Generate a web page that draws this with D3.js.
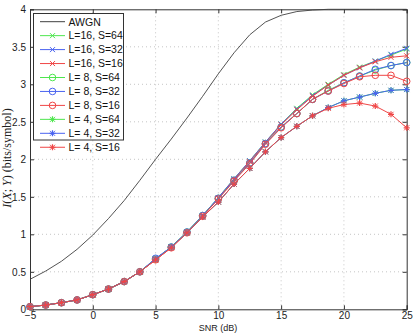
<!DOCTYPE html>
<html>
<head>
<meta charset="utf-8">
<script src="https://cdn.jsdelivr.net/npm/d3@7"></script>
<style>
  body { margin: 0; background: #fff; }
  svg text { font-family: "Liberation Sans", Arial, sans-serif; }
</style>
</head>
<body>
<div id="chart"></div>
<script>
// SNR grid (dB)
const snr = [-5, -3.75, -2.5, -1.25, 0, 1.25, 2.5, 3.75, 5, 6.25, 7.5, 8.75, 10,
  11.25, 12.5, 13.75, 15, 16.25, 17.5, 18.75, 20, 21.25, 22.5, 23.75, 25]

const awgn = [0.40, 0.51, 0.64, 0.80, 0.99, 1.21, 1.45, 1.72, 2.00, 2.27, 2.55, 2.84, 3.14,
  3.42, 3.66, 3.83, 3.92, 3.97, 3.99, 4.0, 4.0, 4.0, 4.0, 4.0, 4.0]

const l16s64 = [0.035, 0.057, 0.088, 0.125, 0.195, 0.27, 0.37, 0.50, 0.67, 0.83, 1.03, 1.25, 1.49,
  1.74, 1.98, 2.23, 2.47, 2.68, 2.86, 3.00, 3.13, 3.23, 3.31, 3.39, 3.47]
const l16s32 = [0.035, 0.057, 0.088, 0.125, 0.195, 0.27, 0.37, 0.50, 0.67, 0.83, 1.03, 1.25, 1.49,
  1.74, 1.98, 2.23, 2.47, 2.67, 2.85, 2.99, 3.12, 3.22, 3.31, 3.40, 3.48]
const l16s16 = [0.035, 0.057, 0.088, 0.125, 0.195, 0.27, 0.37, 0.50, 0.66, 0.83, 1.02, 1.24, 1.48,
  1.73, 1.97, 2.22, 2.46, 2.66, 2.84, 2.99, 3.12, 3.22, 3.30, 3.36, 3.38]
const l8s64 = [0.035, 0.057, 0.088, 0.125, 0.195, 0.27, 0.37, 0.50, 0.67, 0.83, 1.03, 1.25, 1.48,
  1.72, 1.95, 2.21, 2.43, 2.61, 2.80, 2.92, 3.02, 3.11, 3.19, 3.25, 3.29]
const l8s32 = [0.035, 0.057, 0.088, 0.125, 0.195, 0.27, 0.37, 0.50, 0.68, 0.83, 1.03, 1.25, 1.48,
  1.72, 1.95, 2.21, 2.43, 2.61, 2.80, 2.91, 3.02, 3.11, 3.20, 3.25, 3.29]
const l8s16 = [0.035, 0.057, 0.088, 0.125, 0.195, 0.27, 0.37, 0.50, 0.66, 0.82, 1.02, 1.24, 1.47,
  1.71, 1.94, 2.20, 2.42, 2.61, 2.80, 2.91, 3.01, 3.10, 3.12, 3.12, 3.04]
const l4s64 = [0.035, 0.057, 0.088, 0.125, 0.195, 0.27, 0.37, 0.50, 0.67, 0.83, 1.02, 1.23, 1.43,
  1.67, 1.88, 2.10, 2.29, 2.44, 2.58, 2.69, 2.78, 2.83, 2.88, 2.92, 2.93]
const l4s32 = [0.035, 0.057, 0.088, 0.125, 0.195, 0.27, 0.37, 0.50, 0.67, 0.83, 1.02, 1.23, 1.43,
  1.67, 1.88, 2.10, 2.29, 2.44, 2.58, 2.69, 2.78, 2.83, 2.88, 2.92, 2.93]
const l4s16 = [0.035, 0.057, 0.088, 0.125, 0.195, 0.27, 0.37, 0.50, 0.66, 0.82, 1.02, 1.23, 1.43,
  1.67, 1.88, 2.10, 2.29, 2.44, 2.58, 2.68, 2.73, 2.75, 2.71, 2.60, 2.42]

const xTicks = [-5, 0, 5, 10, 15, 20, 25]
const yTicks = [0, 0.5, 1, 1.5, 2, 2.5, 3, 3.5, 4]

const green = "#4ee64e", blue = "#4a63f0", red = "#f04646"

const series = [
  { name: "AWGN", values: awgn, color: "#404040", marker: null },
  { name: "L=16, S=64", values: l16s64, color: green, marker: "x" },
  { name: "L=16, S=32", values: l16s32, color: blue, marker: "x" },
  { name: "L=16, S=16", values: l16s16, color: red, marker: "x" },
  { name: "L= 8, S=64", values: l8s64, color: green, marker: "o" },
  { name: "L= 8, S=32", values: l8s32, color: blue, marker: "o" },
  { name: "L= 8, S=16", values: l8s16, color: red, marker: "o" },
  { name: "L= 4, S=64", values: l4s64, color: green, marker: "*" },
  { name: "L= 4, S=32", values: l4s32, color: blue, marker: "*" },
  { name: "L= 4, S=16", values: l4s16, color: red, marker: "*" }
]

const width = 415, height = 334
const svg = d3.select("#chart").append("svg")
  .attr("width", width).attr("height", height)

const x = d3.scaleLinear().domain([-5, 25]).range([30, 406.7])
const y = d3.scaleLinear().domain([0, 4]).range([309.3, 9.3])

// grid
const grid = svg.append("g").attr("stroke", "#b8b8b8").attr("stroke-dasharray", "1,3").attr("stroke-width", 0.8)
xTicks.slice(1, -1).forEach(t => {
  grid.append("line").attr("x1", x(t)).attr("x2", x(t)).attr("y1", y(0)).attr("y2", y(4))
})
yTicks.slice(1, -1).forEach(t => {
  grid.append("line").attr("x1", x(-5)).attr("x2", x(25)).attr("y1", y(t)).attr("y2", y(t))
})

// axes (ticks inside, like matlab)
const tk = 4
svg.append("g").attr("transform", `translate(0,${y(0)})`)
  .call(d3.axisBottom(x).tickValues(xTicks).tickSize(-tk).tickPadding(3))
svg.append("g").attr("transform", `translate(0,${y(4)})`)
  .call(d3.axisTop(x).tickValues(xTicks).tickSize(-tk).tickFormat(""))
svg.append("g").attr("transform", `translate(${x(-5)},0)`)
  .call(d3.axisLeft(y).tickValues(yTicks).tickSize(-tk).tickPadding(4).tickFormat(d3.format("")))
svg.append("g").attr("transform", `translate(${x(25)},0)`)
  .call(d3.axisRight(y).tickValues(yTicks).tickSize(-tk).tickFormat(""))
svg.selectAll(".domain").attr("stroke", "#333")
svg.selectAll(".tick line").attr("stroke", "#333")
svg.selectAll(".tick text").attr("font-size", 10).attr("fill", "#222")

// labels
svg.append("text").attr("x", 218).attr("y", 331).attr("text-anchor", "middle")
  .attr("font-size", 9).attr("fill", "#222").text("SNR (dB)")

const yl = svg.append("text").attr("transform", "translate(11,158) rotate(-90)")
  .attr("text-anchor", "middle").attr("font-size", 12).attr("fill", "#222")
  .style("font-family", "'Liberation Serif', 'DejaVu Serif', serif")
yl.append("tspan").attr("font-style", "italic").text("I")
yl.append("tspan").text("(")
yl.append("tspan").attr("font-style", "italic").text("X")
yl.append("tspan").text("; ")
yl.append("tspan").attr("font-style", "italic").text("Y")
yl.append("tspan").text(") (bits/symbol)")

function drawMarker(g, type, cx, cy, color) {
  const s = 2.5
  if (type === "x" || type === "*") {
    g.append("path").attr("d", `M${cx - s},${cy - s}L${cx + s},${cy + s}M${cx - s},${cy + s}L${cx + s},${cy - s}`)
      .attr("stroke", color).attr("stroke-width", 1).attr("fill", "none")
  }
  if (type === "*") {
    g.append("path").attr("d", `M${cx - s - 0.5},${cy}L${cx + s + 0.5},${cy}M${cx},${cy - s - 0.5}L${cx},${cy + s + 0.5}`)
      .attr("stroke", color).attr("stroke-width", 1.2).attr("fill", "none")
  }
  if (type === "o") {
    g.append("circle").attr("cx", cx).attr("cy", cy).attr("r", 3.3)
      .attr("stroke", color).attr("stroke-width", 1).attr("fill", "none")
  }
}

const line = d3.line().x((d, i) => x(snr[i])).y(d => y(d)).curve(d3.curveLinear)
const plot = svg.append("g")
series.forEach(s => {
  plot.append("path").datum(s.values).attr("d", line)
    .attr("fill", "none").attr("stroke", s.color).attr("stroke-width", s.marker ? 1 : 0.9)
  if (s.marker) {
    const mg = plot.append("g")
    s.values.forEach((v, i) => drawMarker(mg, s.marker, x(snr[i]), y(v), s.color))
  }
})

// legend
const lg = svg.append("g")
lg.append("rect").attr("x", 33.5).attr("y", 13.5).attr("width", 90).attr("height", 126.5)
  .attr("fill", "#fff").attr("stroke", "#333").attr("stroke-width", 1)
series.forEach((s, i) => {
  const ly = 21.7 + i * 13.95
  lg.append("line").attr("x1", 40).attr("x2", 65).attr("y1", ly).attr("y2", ly)
    .attr("stroke", s.color).attr("stroke-width", 1)
  if (s.marker) drawMarker(lg, s.marker, 52.5, ly, s.color)
  lg.append("text").attr("x", 68.5).attr("y", ly + 3.8).attr("font-size", 10.5)
    .attr("fill", "#111").text(s.name)
})
</script>
</body>
</html>
